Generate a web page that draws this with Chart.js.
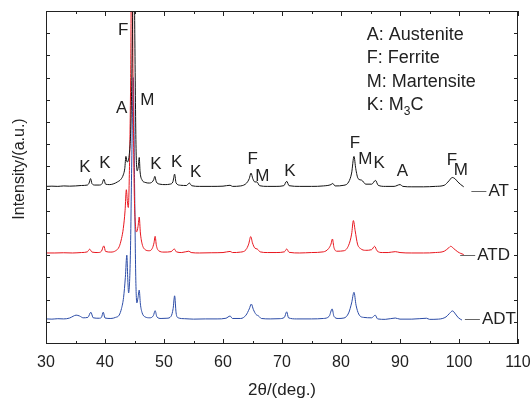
<!DOCTYPE html>
<html>
<head>
<meta charset="utf-8">
<script src="https://cdn.jsdelivr.net/npm/chart.js@4.4.1/dist/chart.umd.min.js"></script>
<style>
  html, body { margin: 0; padding: 0; background: #fff; }
</style>
</head>
<body>
<canvas id="xrdChart" width="532" height="401"></canvas>
<script>
// Góc 2θ và cường độ (đơn vị tuỳ ý, đã xếp chồng)
const angleAT = [30, 31, 32, 33, 34, 35, 36, 37, 37.3, 37.55, 37.8, 38.3, 39.0, 39.5, 39.8, 40.1, 40.8, 41.5, 42.1, 42.7, 43.1, 43.35, 43.55, 43.75, 44.1, 44.4, 44.65, 44.85, 45.05, 45.25, 45.45, 45.65, 45.8, 45.95, 46.3, 46.8, 47.5, 48.0, 48.25, 48.45, 48.7, 49.3, 50.2, 51.0, 51.5, 51.8, 52.05, 52.8, 53.8, 54.3, 54.7, 56, 58, 60, 61.2, 61.6, 63, 64, 64.45, 64.75, 65.05, 65.4, 65.75, 66.2, 67.5, 69, 70.3, 70.8, 71.2, 73, 75, 77, 78.3, 78.6, 79, 80.5, 81.3, 81.8, 82.2, 82.5, 82.9, 83.5, 84.2, 85.2, 85.85, 86.3, 87.5, 89, 90, 90.5, 92, 94, 96, 97.5, 98.3, 98.85, 99.3, 99.8, 100.3, 100.8];
const intensityAT = [7.10, 7.11, 7.10, 7.12, 7.11, 7.12, 7.14, 7.16, 7.25, 7.45, 7.22, 7.16, 7.16, 7.22, 7.42, 7.20, 7.18, 7.22, 7.30, 7.42, 7.62, 7.90, 8.45, 8.20, 8.50, 10.0, 14.0, 20.0, 14.0, 9.0, 7.80, 8.00, 8.40, 7.75, 7.38, 7.28, 7.25, 7.30, 7.40, 7.55, 7.30, 7.20, 7.18, 7.20, 7.30, 7.65, 7.25, 7.15, 7.14, 7.25, 7.13, 7.10, 7.10, 7.11, 7.15, 7.10, 7.12, 7.25, 7.45, 7.70, 7.45, 7.30, 7.30, 7.13, 7.10, 7.10, 7.13, 7.33, 7.13, 7.10, 7.10, 7.12, 7.18, 7.23, 7.12, 7.15, 7.30, 7.70, 8.45, 7.90, 7.45, 7.38, 7.20, 7.20, 7.37, 7.15, 7.10, 7.10, 7.18, 7.10, 7.08, 7.08, 7.10, 7.15, 7.35, 7.50, 7.45, 7.30, 7.18, 7.08];

const angleATD = [30, 31.5, 33, 34.5, 36, 37.0, 37.4, 37.8, 38.8, 39.4, 39.8, 40.1, 41, 41.8, 42.4, 42.8, 43.1, 43.4, 43.62, 43.8, 43.95, 44.15, 44.35, 44.55, 44.75, 44.95, 45.15, 45.35, 45.6, 45.8, 46.0, 46.3, 46.8, 47.5, 48.0, 48.3, 48.5, 48.7, 49.1, 50, 51.2, 51.75, 52.1, 53, 54.2, 54.6, 56, 58, 60, 61.2, 61.6, 63, 63.9, 64.35, 64.7, 65.0, 65.4, 65.8, 66.3, 67.5, 69, 70.4, 70.8, 71.2, 73, 75, 77, 77.9, 78.3, 78.55, 78.8, 79.3, 80.5, 81.3, 81.8, 82.1, 82.4, 82.8, 83.3, 84.2, 85.2, 85.7, 86.1, 87, 88, 89.2, 90, 92, 94, 96, 97.5, 98.2, 98.6, 99.1, 99.8, 100.3, 100.8];
const intensityATD = [4.10, 4.10, 4.11, 4.10, 4.12, 4.15, 4.27, 4.14, 4.12, 4.18, 4.42, 4.17, 4.14, 4.20, 4.38, 4.75, 5.20, 6.00, 6.95, 6.40, 6.15, 8.0, 12.0, 19.0, 12.0, 7.0, 5.40, 5.05, 5.30, 5.72, 5.00, 4.50, 4.25, 4.20, 4.30, 4.55, 4.85, 4.45, 4.20, 4.14, 4.16, 4.28, 4.15, 4.12, 4.18, 4.12, 4.10, 4.11, 4.12, 4.17, 4.12, 4.14, 4.25, 4.50, 4.84, 4.55, 4.32, 4.28, 4.15, 4.12, 4.12, 4.15, 4.28, 4.13, 4.10, 4.12, 4.15, 4.30, 4.50, 4.73, 4.35, 4.18, 4.20, 4.45, 4.95, 5.56, 5.10, 4.50, 4.30, 4.22, 4.25, 4.40, 4.20, 4.12, 4.12, 4.16, 4.12, 4.10, 4.10, 4.12, 4.18, 4.32, 4.40, 4.30, 4.15, 4.08, 4.03];

const angleADT = [30, 31, 32, 33, 34, 34.6, 35.1, 35.7, 36.3, 37.1, 37.6, 38.0, 39.0, 39.4, 39.7, 40.0, 41, 41.8, 42.4, 42.8, 43.15, 43.45, 43.7, 43.85, 44.0, 44.3, 44.55, 44.8, 45.0, 45.2, 45.4, 45.6, 45.8, 46.0, 46.3, 46.8, 47.6, 48.2, 48.5, 48.8, 49.5, 50.5, 51.2, 51.55, 51.8, 52.05, 52.4, 53.5, 55, 57, 59, 60.5, 61.2, 61.6, 63, 63.9, 64.45, 64.8, 65.15, 65.6, 66.0, 66.5, 68, 69.5, 70.4, 70.8, 71.1, 72.5, 75, 77, 78.0, 78.5, 78.8, 79.5, 80.5, 81.3, 81.8, 82.2, 82.55, 83, 83.8, 85.2, 85.8, 86.2, 87.5, 89.2, 90, 92, 94.5, 95, 96.5, 97.8, 98.4, 98.9, 99.4, 99.9, 100.5];
const intensityADT = [1.13, 1.12, 1.14, 1.13, 1.17, 1.25, 1.30, 1.26, 1.18, 1.20, 1.43, 1.18, 1.16, 1.20, 1.43, 1.17, 1.15, 1.20, 1.30, 1.60, 2.10, 3.00, 4.00, 3.00, 2.30, 4.00, 8.50, 12.0, 7.50, 3.20, 1.85, 2.10, 2.43, 1.80, 1.40, 1.22, 1.18, 1.28, 1.50, 1.22, 1.15, 1.16, 1.25, 1.60, 2.17, 1.40, 1.18, 1.14, 1.12, 1.13, 1.13, 1.16, 1.26, 1.15, 1.15, 1.30, 1.58, 1.80, 1.55, 1.33, 1.27, 1.15, 1.13, 1.14, 1.20, 1.45, 1.18, 1.13, 1.13, 1.15, 1.25, 1.58, 1.25, 1.15, 1.17, 1.40, 1.85, 2.33, 1.75, 1.35, 1.20, 1.18, 1.30, 1.13, 1.11, 1.17, 1.12, 1.12, 1.16, 1.11, 1.12, 1.22, 1.38, 1.49, 1.35, 1.18, 1.08];

// Nhãn pha trên các đỉnh: [chữ, 2θ, cường độ]
const peakLabels = [
    ['F', 43.1, 14.14], ['A', 42.83, 10.63], ['M', 47.17, 10.99],
    ['K', 36.61, 7.97], ['K', 40.0, 8.15], ['K', 48.64, 8.11], ['K', 52.15, 8.2], ['K', 55.37, 7.75],
    ['F', 65.03, 8.33], ['M', 66.66, 7.57], ['K', 71.36, 7.76],
    ['F', 82.37, 9.04], ['M', 84.12, 8.32], ['K', 86.49, 8.14], ['A', 90.39, 7.76],
    ['F', 98.81, 8.26], ['M', 100.29, 7.81]
];

// Tên mẫu ở cuối mỗi đường: [chữ, 2θ đầu gạch, cường độ]
const sampleNames = [['AT', 102.1, 6.9], ['ATD', 100.2, 4.0], ['ADT', 101.0, 1.13]];

// Chú thích pha
const phaseNotes = ['A: Austenite', 'F: Ferrite', 'M: Martensite'];

const toPoints = (xs, ys) => xs.map((v, i) => ({ x: v, y: ys[i] }));
const font = size => size + 'px "Liberation Sans", Arial, sans-serif';
const TEXT = '#222';

const annotatePlugin = {
    id: 'annotate',
    afterDatasetsDraw(chart) {
        const { ctx, chartArea: { left, right, top, bottom }, scales: { x, y } } = chart;
        ctx.save();

        // khung và vạch chia hướng vào trong
        ctx.strokeStyle = '#222';
        ctx.lineWidth = 1;
        ctx.strokeRect(left + 0.5, top + 0.5, right - left - 1, bottom - top - 1);
        ctx.beginPath();
        for (let v = 30; v <= 110; v += 5) {
            const px = Math.round(x.getPixelForValue(v)) + 0.5;
            const len = v % 10 === 0 ? 5 : 3;
            ctx.moveTo(px, bottom); ctx.lineTo(px, bottom - len);
            ctx.moveTo(px, top); ctx.lineTo(px, top + len);
        }
        for (let v = 1; v < 15; v++) {
            const py = Math.round(y.getPixelForValue(v)) + 0.5;
            ctx.moveTo(left, py); ctx.lineTo(left + 4, py);
            ctx.moveTo(right, py); ctx.lineTo(right - 4, py);
        }
        ctx.stroke();

        ctx.fillStyle = TEXT;
        ctx.font = font(17);
        ctx.textBaseline = 'middle';
        ctx.textAlign = 'center';
        peakLabels.forEach(([t, a, b]) => {
            ctx.fillText(t, x.getPixelForValue(a), y.getPixelForValue(b));
        });

        // gạch ngang + tên mẫu
        ctx.textAlign = 'left';
        ctx.strokeStyle = '#666';
        sampleNames.forEach(([t, a, b]) => {
            const px = x.getPixelForValue(a), py = Math.round(y.getPixelForValue(b)) + 0.5;
            ctx.beginPath();
            ctx.moveTo(px, py); ctx.lineTo(px + 15, py);
            ctx.stroke();
            ctx.fillText(t, px + 17, py);
        });

        ctx.font = font(18);
        const lx = x.getPixelForValue(84.36);
        phaseNotes.forEach((t, i) => {
            ctx.fillText(t, lx, y.getPixelForValue(13.9 - i * 1.04));
        });
        // K: M3C với chỉ số dưới
        const ky = y.getPixelForValue(10.78);
        ctx.fillText('K: M', lx, ky);
        let kx = lx + ctx.measureText('K: M').width;
        ctx.font = font(12);
        ctx.fillText('3', kx, ky + 7);
        kx += ctx.measureText('3').width;
        ctx.font = font(18);
        ctx.fillText('C', kx, ky);

        // nhãn trục tung
        ctx.font = font(16);
        ctx.textAlign = 'center';
        ctx.translate(20, 169);
        ctx.rotate(-Math.PI / 2);
        ctx.fillText('Intensity/(a.u.)', 0, 0);

        ctx.restore();
    }
};

const ctx = document.getElementById('xrdChart').getContext('2d');
new Chart(ctx, {
    type: 'scatter',
    data: {
        datasets: [
            { label: 'AT', data: toPoints(angleAT, intensityAT), borderColor: '#111111' },
            { label: 'ATD', data: toPoints(angleATD, intensityATD), borderColor: '#e8161e' },
            { label: 'ADT', data: toPoints(angleADT, intensityADT), borderColor: '#2b4ba6' }
        ].map(d => Object.assign(d, {
            showLine: true,
            pointRadius: 0,
            borderWidth: 1,
            cubicInterpolationMode: 'monotone'
        }))
    },
    options: {
        responsive: false,
        animation: false,
        devicePixelRatio: 1,
        layout: { padding: { top: 11, right: 14, left: 0, bottom: 0 } },
        plugins: {
            legend: { display: false },
            tooltip: { enabled: false }
        },
        scales: {
            x: {
                type: 'linear',
                min: 30,
                max: 110,
                grid: { display: false, drawTicks: false },
                border: { display: false },
                ticks: { stepSize: 10, padding: 9, color: TEXT, font: { size: 16, family: '"Liberation Sans", Arial' } },
                title: {
                    display: true, text: '2θ/(deg.)', color: TEXT,
                    padding: { top: 0, bottom: 0 },
                    font: { size: 17, family: '"Liberation Sans", Arial' }
                },
                afterFit(scale) {
                    scale.height = 57;
                    scale.paddingLeft = 0;
                    scale.paddingRight = 0;
                }
            },
            y: {
                min: 0,
                max: 15,
                grid: { display: false, drawTicks: false },
                border: { display: false },
                ticks: { display: false },
                afterFit(scale) { scale.width = 46; }
            }
        }
    },
    plugins: [annotatePlugin]
});
</script>
</body>
</html>
